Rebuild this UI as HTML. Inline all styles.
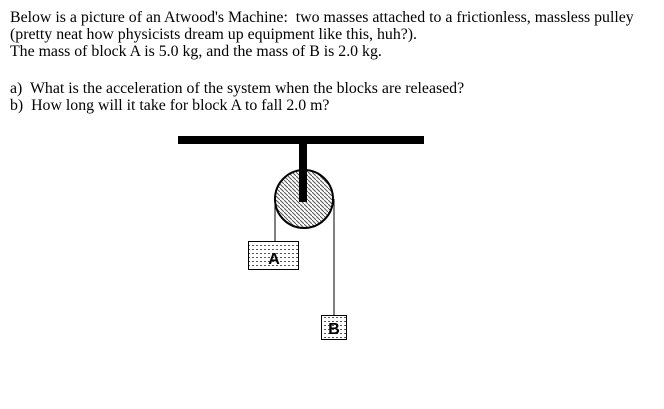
<!DOCTYPE html>
<html><head><style>
body{margin:0;width:664px;height:409px;background:#fff;position:relative;overflow:hidden;font-family:"Liberation Serif",serif;font-size:15.85px;color:#000}
.t{position:absolute;left:10px;white-space:nowrap;line-height:17px}
</style></head><body>
<div class="t" style="top:9px">Below is a picture of an Atwood's Machine:&nbsp; two masses attached to a frictionless, massless pulley</div>
<div class="t" style="top:26px">(pretty neat how physicists dream up equipment like this, huh?).</div>
<div class="t" style="top:43px">The mass of block A is 5.0 kg, and the mass of B is 2.0 kg.</div>
<div class="t" style="top:80px">a)&nbsp; What is the acceleration of the system when the blocks are released?</div>
<div class="t" style="top:97px">b)&nbsp; How long will it take for block A to fall 2.0 m?</div>
<svg width="664" height="409" style="position:absolute;left:0;top:0">
<defs><pattern id="h" width="4" height="4" patternUnits="userSpaceOnUse"><rect width="4" height="4" fill="#fff"/><path d="M0,0L4,4" stroke="#555" stroke-width="1"/></pattern>
<pattern id="d" width="4" height="4" patternUnits="userSpaceOnUse"><rect width="4" height="4" fill="#fff"/><rect x="0" y="1" width="2" height="1" fill="#555"/></pattern></defs>
<rect x="178" y="136" width="246" height="8" fill="#000"/>
<circle cx="304" cy="199" r="29" fill="url(#h)" stroke="#000" stroke-width="2"/>
<rect x="299" y="144" width="8" height="58" fill="#000"/>
<line x1="275" y1="199" x2="275" y2="241" stroke="#000"/>
<line x1="334" y1="199" x2="334" y2="315" stroke="#000"/>
<rect x="248.5" y="241.5" width="50" height="28" fill="url(#d)" stroke="#000"/>
<text x="274" y="264" font-family="Liberation Sans" font-weight="bold" font-size="16" text-anchor="middle">A</text>
<rect x="321.5" y="315.5" width="25" height="24" fill="url(#d)" stroke="#000"/>
<text x="334" y="334" font-family="Liberation Sans" font-weight="bold" font-size="16" text-anchor="middle">B</text>
</svg>
</body></html>
